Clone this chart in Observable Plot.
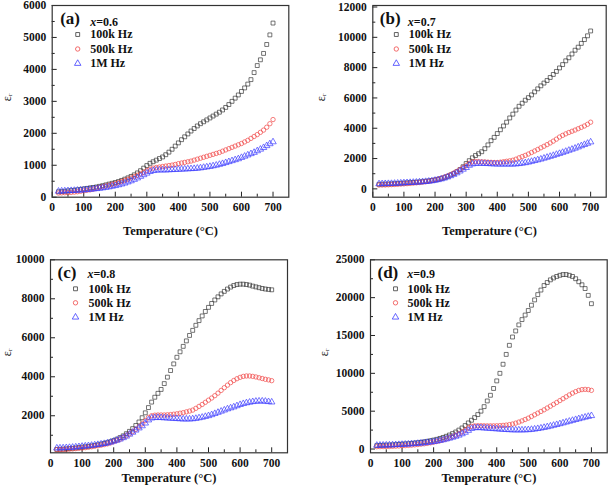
<!DOCTYPE html>
<html><head><meta charset="utf-8">
<script src="https://cdn.jsdelivr.net/npm/d3@7"></script>
<script src="https://cdn.jsdelivr.net/npm/@observablehq/plot@0.6"></script>
<style>
body{margin:0;background:#fff;}
#wrap{position:relative;width:609px;height:488px;overflow:hidden;background:#fff;}
#wrap svg{position:absolute;}
</style></head><body><div id="wrap"></div>
<script>
const temps = [20,30,40,50,60,70,80,90,100,110,120,130,140,150,160,170,180,190,200,210,220,230,240,250,260,270,280,290,300,310,320,330,340,350,360,370,380,390,400,410,420,430,440,450,460,470,480,490,500,510,520,530,540,550,560,570,580,590,600,610,620,630,640,650,660,670,680,690,700];
const seriesNames = ["100k Hz", "500k Hz", "1M Hz"];

// (a) x = 0.6
const a100 = [170,175,185,195,205,215,230,245,260,275,290,305,320,340,360,385,410,435,460,490,525,565,605,650,700,760,830,910,990,1060,1110,1160,1210,1260,1330,1410,1500,1600,1700,1800,1890,1980,2070,2150,2230,2300,2360,2420,2480,2540,2600,2660,2730,2810,2900,3000,3100,3200,3310,3420,3540,3680,3900,4120,4300,4500,4780,5080,5450];
const a500 = [130,135,140,145,150,160,170,185,200,215,230,250,275,300,325,350,375,400,425,455,490,525,560,600,640,685,730,780,830,880,910,930,945,960,975,990,1005,1025,1050,1070,1090,1110,1130,1160,1190,1220,1250,1280,1310,1340,1370,1400,1440,1480,1520,1560,1600,1640,1680,1730,1780,1840,1900,1960,2030,2100,2190,2300,2430];
const a1M = [185,190,195,200,205,210,215,220,225,235,245,255,265,275,290,305,320,340,360,385,410,440,475,510,555,600,650,700,750,800,830,845,850,850,850,855,860,865,870,875,880,885,890,895,905,915,930,945,960,980,1000,1025,1050,1080,1110,1140,1170,1200,1240,1280,1320,1360,1400,1450,1500,1550,1610,1670,1730];

// (b) x = 0.7
const b100 = [300,305,310,320,330,340,350,365,380,395,410,425,440,455,475,500,525,555,590,630,680,740,820,910,1010,1130,1270,1460,1670,1860,2050,2200,2320,2450,2650,2900,3180,3400,3650,3900,4150,4400,4680,4930,5200,5450,5650,5850,6020,6200,6400,6600,6800,6980,7150,7350,7550,7750,7980,8200,8450,8650,8900,9150,9350,9600,9850,10100,10420];
const b500 = [250,255,260,270,280,290,300,315,330,345,360,380,400,420,445,470,500,540,590,640,700,770,850,940,1040,1150,1270,1400,1530,1680,1780,1810,1800,1790,1780,1760,1750,1740,1740,1760,1790,1820,1850,1890,1960,2050,2130,2210,2300,2400,2500,2600,2710,2810,2920,3030,3150,3280,3420,3530,3630,3720,3800,3880,3970,4060,4150,4260,4400];
const b1M = [330,335,340,345,350,360,370,380,395,405,415,425,435,450,465,480,500,525,560,600,650,710,780,860,950,1050,1170,1290,1400,1550,1640,1670,1680,1680,1670,1660,1650,1640,1630,1630,1630,1630,1630,1630,1640,1660,1690,1720,1760,1810,1860,1910,1960,2020,2080,2140,2200,2270,2330,2400,2470,2540,2610,2680,2760,2840,2920,3000,3090];

// (c) x = 0.8
const c100 = [270,280,290,300,315,330,350,370,390,410,430,455,480,510,545,580,620,670,730,800,880,970,1080,1200,1340,1500,1680,1900,2150,2420,2700,2950,3150,3350,3650,3980,4320,4660,5000,5280,5560,5840,6120,6380,6640,6880,7120,7350,7560,7760,7940,8100,8250,8380,8500,8600,8680,8730,8750,8750,8730,8700,8650,8610,8570,8530,8500,8480,8460];
const c500 = [260,265,270,280,290,300,315,330,345,365,385,410,435,460,490,520,560,610,670,730,800,880,970,1070,1180,1300,1430,1580,1750,1910,2000,2030,2040,2040,2040,2050,2060,2080,2100,2130,2160,2200,2240,2290,2380,2480,2580,2690,2800,2910,3030,3160,3300,3440,3570,3700,3810,3900,3970,4020,4040,4040,4020,3990,3950,3910,3870,3840,3800];
const c1M = [340,345,350,360,370,380,395,410,430,445,460,480,500,520,545,570,600,640,690,740,800,870,950,1050,1150,1260,1370,1480,1620,1780,1880,1900,1910,1900,1890,1880,1870,1860,1850,1840,1830,1830,1830,1840,1860,1890,1920,1960,2000,2050,2110,2170,2230,2290,2350,2400,2450,2510,2570,2620,2660,2690,2720,2740,2750,2750,2740,2720,2700];

// (d) x = 0.9
const d100 = [450,470,490,510,530,550,580,610,640,670,700,740,780,830,880,940,1010,1090,1180,1280,1400,1530,1680,1850,2040,2250,2500,2780,3100,3450,3800,4150,4550,5000,5600,6350,7100,8000,9000,10000,11200,12500,13700,14800,15600,16400,17100,17700,18300,19000,19700,20400,21000,21600,22000,22350,22600,22800,22950,23050,23050,22950,22800,22500,22100,21700,21200,20300,19200];
const d500 = [300,310,320,330,340,360,380,400,420,450,480,510,550,590,640,690,750,820,900,990,1090,1210,1340,1480,1640,1810,2000,2250,2500,2800,3000,3060,3080,3080,3070,3060,3060,3060,3070,3090,3120,3160,3220,3300,3420,3560,3720,3900,4080,4300,4520,4740,4960,5180,5420,5660,5900,6150,6400,6650,6900,7150,7380,7580,7750,7850,7880,7850,7750];
const d1M = [480,490,500,510,520,540,560,580,600,620,640,670,700,730,770,810,860,910,970,1040,1120,1210,1310,1420,1540,1670,1820,2000,2200,2450,2700,2800,2820,2800,2770,2740,2710,2680,2650,2620,2590,2560,2540,2520,2510,2510,2510,2520,2540,2580,2630,2690,2760,2840,2930,3020,3120,3220,3330,3440,3550,3660,3770,3880,3990,4100,4200,4300,4400];

const xMajor = [0,100,200,300,400,500,600,700];
const xMinor = [50,150,250,350,450,550,650];
const aMajor = [0,1000,2000,3000,4000,5000,6000], aMinor = [500,1500,2500,3500,4500,5500];
const bMajor = [0,2000,4000,6000,8000,10000,12000], bMinor = [1000,3000,5000,7000,9000,11000];
const cMajor = [2000,4000,6000,8000,10000], cMinor = [1000,3000,5000,7000,9000];
const dMajor = [0,5000,10000,15000,20000,25000], dMinor = [2500,7500,12500,17500,22500];

const symbols = ["square","circle","triangle"];
const colors = ["#3a3a3a","#f04848","#3c3cff"];
const font = "'Liberation Serif', 'Times New Roman', serif";

function panel(p) {
  const innerW = p.w - p.mL - p.mR, innerH = p.h - p.mT - p.mB;
  const [y0, y1] = p.yDomain;
  const ySpan = y1 - y0;
  const xl = (px) => 750 * px / innerW;
  const yl = (px) => ySpan * px / innerH;
  const marks = [];
  marks.push(Plot.ruleY(p.yMajor, {x1: 0, x2: xl(5), stroke: "#222", strokeWidth: 1}));
  marks.push(Plot.ruleY(p.yMinor, {x1: 0, x2: xl(3), stroke: "#222", strokeWidth: 1}));
  marks.push(Plot.ruleX(xMajor, {y1: y0, y2: y0 + yl(5), stroke: "#222", strokeWidth: 1}));
  marks.push(Plot.ruleX(xMinor, {y1: y0, y2: y0 + yl(3), stroke: "#222", strokeWidth: 1}));
  p.series.forEach((arr, k) => {
    const rows = temps.map((t, i) => ({t, v: arr[i]}));
    marks.push(Plot.dot(rows, {x: "t", y: "v", symbol: symbols[k], r: k === 2 ? 2.4 : 2.2, stroke: colors[k], strokeWidth: 0.7, fill: "none"}));
  });
  marks.push(Plot.frame({stroke: "#333", strokeWidth: 1.2}));
  marks.push(Plot.axisY({ticks: p.yMajor, tickSize: 0, tickPadding: 6, tickFormat: d => String(d), label: null, fontWeight: "bold", fontSize: 11.5}));
  marks.push(Plot.axisX({ticks: xMajor, tickSize: 0, tickPadding: 6, tickFormat: d => String(d), label: null, fontWeight: "bold", fontSize: 11.5}));
  marks.push(Plot.text(["Temperature (\u00B0C)"], {frameAnchor: "bottom", dy: p.xLabelDy, fontWeight: "bold", fontSize: 12.5, fill: "#111"}));
  marks.push(Plot.text(["\u03B5\u1D63"], {frameAnchor: "left", dx: p.yLabelDx, rotate: -90, fontSize: 12, fill: "#111"}));
  marks.push(Plot.text([p.letter], {frameAnchor: "top-left", dx: p.letterDx, dy: p.letterDy, textAnchor: "start", lineAnchor: "bottom", fontWeight: "bold", fontSize: 17, fill: "#111"}));
  marks.push(Plot.text(["x"], {frameAnchor: "top-left", dx: p.compDx, dy: p.compDy, textAnchor: "start", lineAnchor: "bottom", fontWeight: "bold", fontStyle: "italic", fontSize: 12, fill: "#111"}));
  marks.push(Plot.text([p.comp], {frameAnchor: "top-left", dx: p.compDx + 6, dy: p.compDy, textAnchor: "start", lineAnchor: "bottom", fontWeight: "bold", fontSize: 12, fill: "#111"}));
  seriesNames.forEach((name, k) => {
    const dy = p.legDy[k];
    marks.push(Plot.dot([0], {frameAnchor: "top-left", dx: p.legMx, dy, symbol: symbols[k], r: k === 2 ? 2.4 : 2.2, stroke: colors[k], strokeWidth: 0.8, fill: "none"}));
    marks.push(Plot.text([name], {frameAnchor: "top-left", dx: p.legTx, dy, textAnchor: "start", lineAnchor: "middle", fontWeight: "bold", fontSize: 12, fill: "#111"}));
  });
  const svg = Plot.plot({
    width: p.w, height: p.h,
    marginLeft: p.mL, marginRight: p.mR, marginTop: p.mT, marginBottom: p.mB,
    x: {domain: [0, 750]},
    y: {domain: p.yDomain},
    style: {fontFamily: font, background: "transparent", color: "#111", overflow: "visible"},
    marks
  });
  svg.style.left = p.left + "px";
  svg.style.top = p.top + "px";
  document.getElementById("wrap").appendChild(svg);
}

panel({left: 0, top: 0, w: 300, h: 240, mL: 51.7, mR: 11.7, mT: 5, mB: 43.3,
  yDomain: [0, 6000], yMajor: aMajor, yMinor: aMinor, series: [a100, a500, a1M],
  letter: "(a)", comp: "=0.6", letterDx: 8, letterDy: 18, compDx: 38, compDy: 20,
  legMx: 25.5, legTx: 38, legDy: [29, 43.5, 58], xLabelDy: 38, yLabelDx: -45});
panel({left: 300, top: 0, w: 309, h: 240, mL: 72.3, mR: 3.3, mT: 5, mB: 43.3,
  yDomain: [-550, 12100], yMajor: bMajor, yMinor: bMinor, series: [b100, b500, b1M],
  letter: "(b)", comp: "=0.7", letterDx: 7, letterDy: 18, compDx: 35, compDy: 20,
  legMx: 23.5, legTx: 36, legDy: [29, 43.5, 58], xLabelDy: 38, yLabelDx: -52});
panel({left: 0, top: 240, w: 300, h: 248, mL: 50, mR: 13, mT: 19.3, mB: 35.7,
  yDomain: [100, 10000], yMajor: cMajor, yMinor: cMinor, series: [c100, c500, c1M],
  letter: "(c)", comp: "=0.8", letterDx: 7, letterDy: 18, compDx: 37, compDy: 18,
  legMx: 25, legTx: 38, legDy: [29, 43, 57.4], xLabelDy: 29, yLabelDx: -43});
panel({left: 300, top: 240, w: 309, h: 248, mL: 70, mR: 2.3, mT: 19.3, mB: 35.7,
  yDomain: [-500, 25000], yMajor: dMajor, yMinor: dMinor, series: [d100, d500, d1M],
  letter: "(d)", comp: "=0.9", letterDx: 7, letterDy: 18, compDx: 36.7, compDy: 18,
  legMx: 25, legTx: 37, legDy: [29, 43, 57.4], xLabelDy: 29, yLabelDx: -46});
</script></body></html>
